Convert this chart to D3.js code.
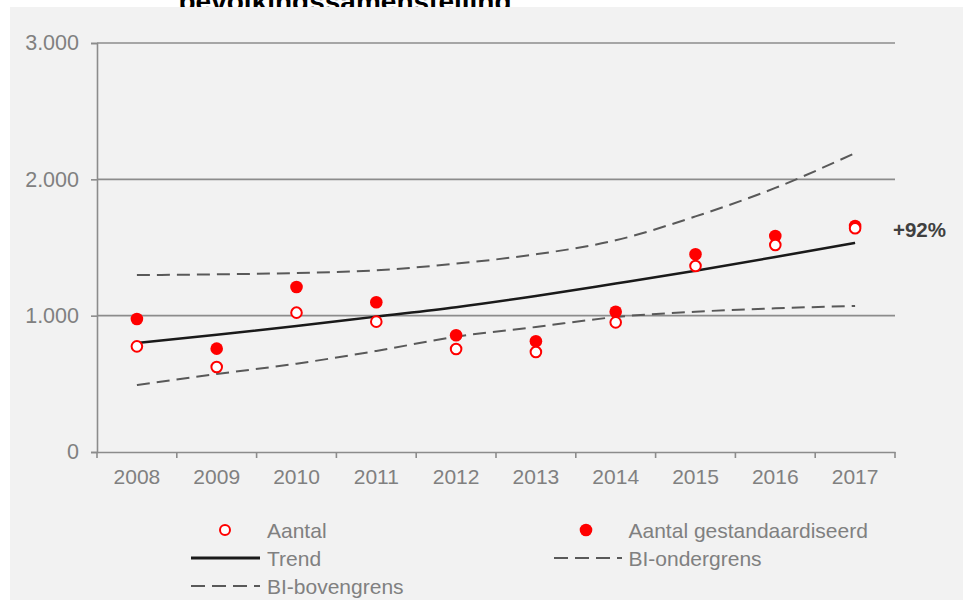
<!DOCTYPE html>
<html>
<head>
<meta charset="utf-8">
<script src="https://cdn.jsdelivr.net/npm/d3@7"></script>
<style>
  body { margin: 0; background: #fff; }
  svg { display: block; font-family: "Liberation Sans", Arial, sans-serif; }
</style>
</head>
<body>
<svg width="963" height="600"></svg>
<script>
// data
let years = ['2008', '2009', '2010', '2011', '2012', '2013', '2014', '2015', '2016', '2017']
let aantal = [775, 623, 1022, 956, 755, 733, 951, 1364, 1518, 1641]
let gestandaardiseerd = [976, 758, 1210, 1098, 856, 812, 1029, 1450, 1584, 1658]
let trend = [800, 860, 924, 993, 1062, 1144, 1236, 1330, 1430, 1534]
let biOnder = [491, 572, 648, 741, 846, 917, 990, 1029, 1054, 1071]
let biBoven = [1298, 1303, 1313, 1333, 1382, 1450, 1553, 1728, 1937, 2193]
let yTicks = [0, 1000, 2000, 3000]
let changeLabel = '+92%'

let width = 963
let height = 600
let margin = { top: 43, right: 68, bottom: 148, left: 97 }

const svg = d3.select('svg')

// title, mostly cut off at the top
svg.append('text')
  .attr('x', 345)
  .attr('y', 11)
  .attr('text-anchor', 'middle')
  .style('font-weight', 'bold')
  .style('font-size', '28px')
  .attr('fill', '#000')
  .text('bevolkingssamenstelling')

svg.append('rect')
  .attr('x', 10).attr('y', 7)
  .attr('width', width - 10).attr('height', height - 7)
  .attr('fill', '#f2f2f2')

let x = d3.scaleBand()
  .domain(years)
  .range([margin.left, width - margin.right])

let y = d3.scaleLinear()
  .domain([0, 3000])
  .range([height - margin.bottom, margin.top])

let cx = d => x(d) + x.bandwidth() / 2

// gridlines
svg.append('g')
  .selectAll('line')
  .data(yTicks.filter(d => d > 0))
  .enter()
  .append('line')
  .attr('x1', margin.left)
  .attr('x2', width - margin.right)
  .attr('y1', d => y(d))
  .attr('y2', d => y(d))
  .attr('stroke', '#8c8c8c')
  .attr('stroke-width', 1.6)

// y axis
let yAxis = svg.append('g')
  .attr('transform', `translate(${margin.left},0)`)
  .call(d3.axisLeft(y).tickValues(yTicks).tickSize(6).tickPadding(12)
    .tickFormat(d => d3.format(',')(d).replace(/,/g, '.')))
yAxis.select('.domain').attr('stroke', '#8c8c8c').attr('stroke-width', 1.6)
yAxis.selectAll('.tick line').attr('stroke', '#8c8c8c').attr('stroke-width', 1.6)
yAxis.selectAll('text').attr('fill', '#808080').style('font-size', '21.5px')
  .attr('font-family', null)

// x axis
let xAxis = svg.append('g')
  .attr('transform', `translate(0,${height - margin.bottom})`)
  .call(d3.axisBottom(x).tickSize(0).tickPadding(17).tickSizeOuter(0))
xAxis.select('.domain').attr('stroke', '#8c8c8c').attr('stroke-width', 1.6)
xAxis.selectAll('text').attr('fill', '#808080').style('font-size', '21px')
  .attr('font-family', null)
// band boundary ticks
xAxis.append('g')
  .selectAll('line')
  .data(years.concat(['end']))
  .enter()
  .append('line')
  .attr('x1', (d, i) => i < years.length ? x(d) : x.range()[1])
  .attr('x2', (d, i) => i < years.length ? x(d) : x.range()[1])
  .attr('y1', 0)
  .attr('y2', 6)
  .attr('stroke', '#8c8c8c')
  .attr('stroke-width', 1.6)

// lines
let line = d3.line()
  .x((d, i) => cx(years[i]))
  .y(d => y(d))
  .curve(d3.curveMonotoneX)

svg.append('path')
  .attr('d', line(biOnder))
  .attr('fill', 'none')
  .attr('stroke', '#595959')
  .attr('stroke-width', 2)
  .attr('stroke-dasharray', '13,7')

svg.append('path')
  .attr('d', line(biBoven))
  .attr('fill', 'none')
  .attr('stroke', '#595959')
  .attr('stroke-width', 2)
  .attr('stroke-dasharray', '13,7')

svg.append('path')
  .attr('d', line(trend))
  .attr('fill', 'none')
  .attr('stroke', '#1a1a1a')
  .attr('stroke-width', 2.5)

// points
svg.append('g')
  .selectAll('circle')
  .data(gestandaardiseerd)
  .enter()
  .append('circle')
  .attr('cx', (d, i) => cx(years[i]))
  .attr('cy', d => y(d))
  .attr('r', 6.3)
  .attr('fill', '#ff0000')

svg.append('g')
  .selectAll('circle')
  .data(aantal)
  .enter()
  .append('circle')
  .attr('cx', (d, i) => cx(years[i]))
  .attr('cy', d => y(d))
  .attr('r', 5.3)
  .attr('fill', '#fff')
  .attr('stroke', '#ff0000')
  .attr('stroke-width', 2)

// change label
svg.append('text')
  .attr('x', 893)
  .attr('y', 237)
  .style('font-weight', 'bold')
  .style('font-size', '20.5px')
  .attr('fill', '#404040')
  .text(changeLabel)

// legend
let legend = svg.append('g').style('font-size', '21px').attr('fill', '#808080')

legend.append('circle').attr('cx', 225).attr('cy', 530).attr('r', 5)
  .attr('fill', '#fff').attr('stroke', '#ff0000').attr('stroke-width', 2)
legend.append('text').attr('x', 267).attr('y', 537.5).text('Aantal')

legend.append('circle').attr('cx', 586).attr('cy', 530).attr('r', 6.3)
  .attr('fill', '#ff0000')
legend.append('text').attr('x', 628.5).attr('y', 537.5).text('Aantal gestandaardiseerd')

legend.append('line').attr('x1', 191).attr('x2', 260).attr('y1', 558).attr('y2', 558)
  .attr('stroke', '#1a1a1a').attr('stroke-width', 3)
legend.append('text').attr('x', 267).attr('y', 565.5).text('Trend')

legend.append('line').attr('x1', 554).attr('x2', 622).attr('y1', 558).attr('y2', 558)
  .attr('stroke', '#595959').attr('stroke-width', 1.8).attr('stroke-dasharray', '14,7')
legend.append('text').attr('x', 628.5).attr('y', 565.5).text('BI-ondergrens')

legend.append('line').attr('x1', 191).attr('x2', 260).attr('y1', 586).attr('y2', 586)
  .attr('stroke', '#595959').attr('stroke-width', 1.8).attr('stroke-dasharray', '14,7')
legend.append('text').attr('x', 267).attr('y', 593.5).text('BI-bovengrens')
</script>
</body>
</html>
